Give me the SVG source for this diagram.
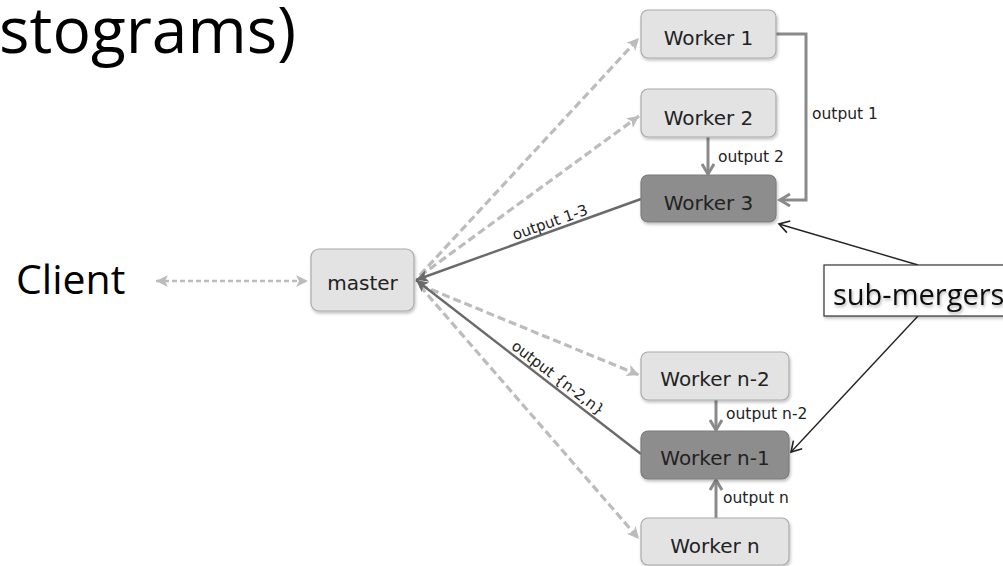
<svg xmlns="http://www.w3.org/2000/svg" width="1003" height="566" viewBox="0 0 1003 566">
<style>
.box{fill:#e3e3e3;stroke:#aaaaaa;stroke-width:1.2;filter:url(#sh)}
.dark{fill:#8d8d8d;stroke:#7c7c7c;stroke-width:1.2;filter:url(#sh)}
.wt{font-family:"DejaVu Sans",sans-serif;font-size:20px;fill:#222;text-anchor:middle}
.lbl{font-family:"DejaVu Sans",sans-serif;font-size:15.5px;fill:#222}
.rl{font-family:"DejaVu Sans",sans-serif;font-size:15px;fill:#222;text-anchor:middle}
.dash{stroke:#bcbcbc;stroke-width:3.2;stroke-dasharray:8 4;fill:none}
.cdash{stroke:#bcbcbc;stroke-width:2.6;stroke-dasharray:5 3;fill:none}
.solid{stroke:#6a6a6a;stroke-width:2.4;fill:none}
.grey{stroke:#8a8a8a;stroke-width:3;fill:none}
.blk{stroke:#222;stroke-width:1.4;fill:none}
</style>
<defs>
<filter id="sh" x="-10%" y="-10%" width="125%" height="135%"><feDropShadow dx="1" dy="2" stdDeviation="1.6" flood-color="#000" flood-opacity="0.25"/></filter>
<filter id="ts" x="-5%" y="-20%" width="110%" height="150%"><feDropShadow dx="1" dy="2" stdDeviation="1.5" flood-color="#000" flood-opacity="0.3"/></filter>
<marker id="ad" markerUnits="userSpaceOnUse" markerWidth="14" markerHeight="14" refX="12" refY="6" orient="auto"><path d="M0,0 L12,6 L0,12 L3,6 Z" fill="#bcbcbc"/></marker>
<marker id="ads" markerUnits="userSpaceOnUse" markerWidth="14" markerHeight="14" refX="12" refY="6" orient="auto-start-reverse"><path d="M0,0 L12,6 L0,12 L3,6 Z" fill="#bcbcbc"/></marker>
<marker id="as" markerUnits="userSpaceOnUse" markerWidth="14" markerHeight="14" refX="12" refY="6" orient="auto"><path d="M0,0 L12,6 L0,12 L3,6 Z" fill="#6a6a6a"/></marker>
<marker id="ag" markerUnits="userSpaceOnUse" markerWidth="16" markerHeight="16" refX="12" refY="7" orient="auto"><path d="M2,1 L12,7 L2,13" fill="none" stroke="#8a8a8a" stroke-width="3"/></marker>
<marker id="ab" markerUnits="userSpaceOnUse" markerWidth="16" markerHeight="16" refX="11" refY="7" orient="auto"><path d="M1,1 L11,7 L1,13" fill="none" stroke="#222" stroke-width="1.6"/></marker>
</defs>
<rect width="1003" height="566" fill="#fff"/>
<text x="296" y="53" font-family="'Open Sans',sans-serif" font-size="64" text-anchor="end" fill="#000">stograms)</text>
<text x="16" y="294" font-family="'Open Sans',sans-serif" font-size="41" fill="#000">Client</text>
<g id="connectors">
<line class="cdash" x1="156" y1="281" x2="308" y2="281" marker-start="url(#ads)" marker-end="url(#ad)"/>
<line class="dash" x1="420" y1="275" x2="639" y2="38" marker-end="url(#ad)"/>
<line class="dash" x1="420" y1="276" x2="639" y2="116" marker-end="url(#ad)"/>
<line class="dash" x1="420" y1="285" x2="639" y2="375" marker-end="url(#ad)"/>
<line class="dash" x1="420" y1="286" x2="639" y2="539" marker-end="url(#ad)"/>
<line class="solid" x1="641" y1="199" x2="416" y2="280" marker-end="url(#as)"/>
<line class="solid" x1="641" y1="454" x2="416" y2="280" marker-end="url(#as)"/>
<polyline class="grey" points="776,34 806,34 806,200 780,200" marker-end="url(#ag)"/>
<line class="grey" x1="708" y1="137" x2="708" y2="174" marker-end="url(#ag)"/>
<line class="grey" x1="716" y1="400" x2="716" y2="430" marker-end="url(#ag)"/>
<line class="grey" x1="716" y1="518" x2="716" y2="480" marker-end="url(#ag)"/>
<line class="blk" x1="918" y1="265" x2="779" y2="224" marker-end="url(#ab)"/>
<line class="blk" x1="918" y1="316" x2="791" y2="452" marker-end="url(#ab)"/>
<text class="lbl" x="812" y="119">output 1</text>
<text class="lbl" x="718" y="162">output 2</text>
<text class="lbl" x="726" y="419">output n-2</text>
<text class="lbl" x="723" y="503">output n</text>
<text class="rl" transform="translate(551.7,227.2) rotate(-19.4)">output 1-3</text>
<text class="rl" transform="translate(555,382) rotate(37.4)">output {n-2,n}</text>
</g>
<g id="master"><rect class="box" x="311" y="249" width="103" height="62" rx="8"/><text class="wt" x="362.5" y="290">master</text></g>
<g id="worker1"><rect class="box" x="641" y="10" width="135" height="48" rx="7"/><text class="wt" x="708.5" y="45">Worker 1</text></g>
<g id="worker2"><rect class="box" x="641" y="89" width="135" height="48" rx="7"/><text class="wt" x="708.5" y="125">Worker 2</text></g>
<g id="worker3"><rect class="dark" x="641" y="175" width="135" height="47" rx="7"/><text class="wt" x="708.5" y="210">Worker 3</text></g>
<g id="workern2"><rect class="box" x="641" y="352" width="148" height="48" rx="7"/><text class="wt" x="715" y="386">Worker n-2</text></g>
<g id="workern1"><rect class="dark" x="641" y="431" width="148" height="48" rx="7"/><text class="wt" x="715" y="465">Worker n-1</text></g>
<g id="workern"><rect class="box" x="641" y="518" width="148" height="47" rx="7"/><text class="wt" x="715" y="553">Worker n</text></g>
<g id="submergers"><rect x="824" y="265" width="190" height="51" fill="#fff" stroke="#333" stroke-width="1.2" filter="url(#sh)"/><text x="833" y="305" font-family="'Open Sans',sans-serif" font-size="29" fill="#111" filter="url(#ts)">sub-mergers</text></g>
</svg>
